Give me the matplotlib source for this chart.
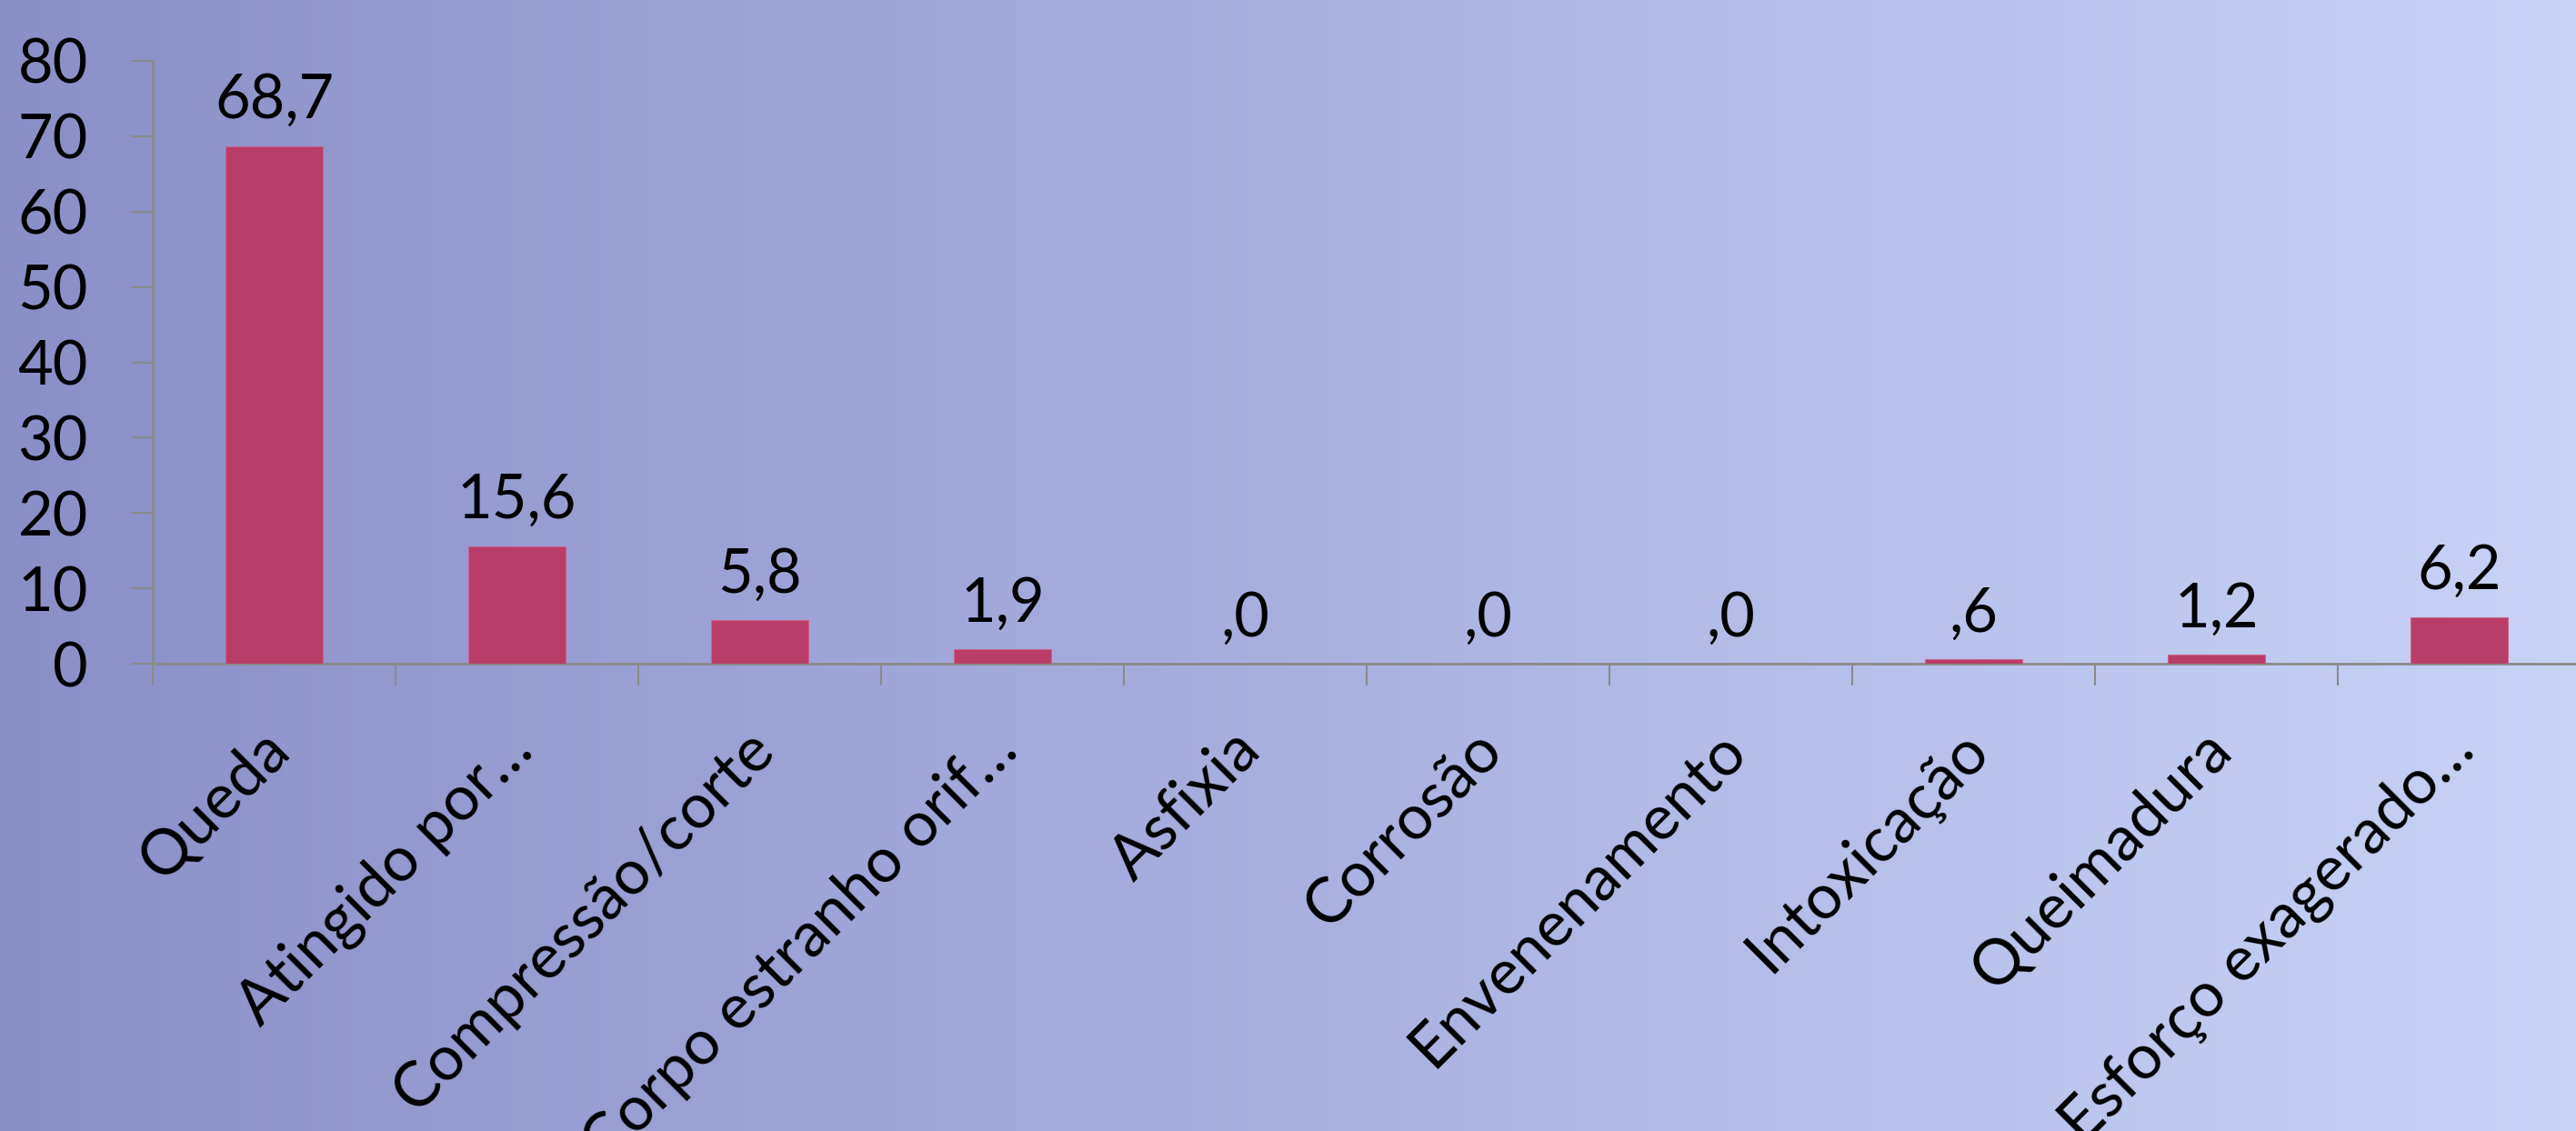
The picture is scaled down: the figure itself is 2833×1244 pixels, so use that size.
import numpy as np
import matplotlib
matplotlib.use("Agg")
import matplotlib.pyplot as plt
from matplotlib.colors import LinearSegmentedColormap
import matplotlib.transforms as mtransforms

categories = ["Queda", "Atingido por…", "Compressão/corte", "Corpo estranho orif…",
              "Asfixia", "Corrosão", "Envenenamento", "Intoxicação",
              "Queimadura", "Esforço exagerado…"]
values = [68.7, 15.6, 5.8, 1.9, 0.0, 0.0, 0.0, 0.6, 1.2, 6.2]
yticks = [0, 10, 20, 30, 40, 50, 60, 70, 80]

def fmt(v):
    s = f"{v:.1f}".replace(".", ",")
    if s.startswith("0,"):
        s = s[1:]
    return s

plt.rcParams['font.family'] = ['Lato', 'DejaVu Sans']

W, H = 2833, 1244
DPI = 100
fig = plt.figure(figsize=(W / DPI, H / DPI), dpi=DPI)

# background gradient
bg = fig.add_axes([0, 0, 1, 1], zorder=0)
cmap = LinearSegmentedColormap.from_list("bg", ["#8b8fc8", "#a9b0e0", "#c9d3f6"])
grad = np.linspace(0, 1, 512).reshape(1, -1)
bg.imshow(grad, aspect="auto", cmap=cmap, extent=[0, 1, 0, 1])
bg.set_axis_off()

# main axes: x from 168 to 2838 px, y0 at 730 px, y80 at 67 px
x0, x1 = 168, 2838
ytop, ybot = 67, 730
ax = fig.add_axes([x0 / W, (H - ybot) / H, (x1 - x0) / W, (ybot - ytop) / H], zorder=1)
ax.patch.set_alpha(0)

n = len(categories)
xs = np.arange(n)
ax.bar(xs, values, width=0.4, color="#b93d68", edgecolor="#c8658c", linewidth=0.8, zorder=3)

ax.set_xlim(-0.5, n - 0.5)
ax.set_ylim(0, 80)
ax.set_yticks(yticks)
ax.set_yticklabels([str(t) for t in yticks], fontsize=48)

gray = "#8a8a8a"
for s in ["top", "right"]:
    ax.spines[s].set_visible(False)
for s in ["left", "bottom"]:
    ax.spines[s].set_color(gray)
    ax.spines[s].set_linewidth(2)

ax.tick_params(axis="y", length=17.3, width=1.5, color=gray, pad=34, direction="out")
ax.set_xticks(np.arange(-0.5, n, 1.0))
ax.set_xticklabels([])
ax.tick_params(axis="x", length=17.3, width=1.5, color=gray, direction="out")

# data labels
for x, v in zip(xs, values):
    ax.annotate(fmt(v), (x, v), xytext=(0, 22), textcoords="offset points",
                ha="center", va="baseline", fontsize=48, color="black", zorder=4)

# rotated category labels
for x, c in zip(xs, categories):
    trans = mtransforms.offset_copy(ax.transData, fig=fig, x=6 * 72 / DPI, y=-84 * 72 / DPI, units="points")
    ax.text(x, 0, c, transform=trans, rotation=45, rotation_mode="anchor",
            ha="right", va="center", fontsize=49.5, color="black", clip_on=False)

fig.savefig("out.png", dpi=DPI)
